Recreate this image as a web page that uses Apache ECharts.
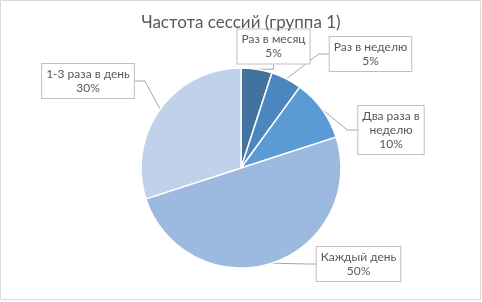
<!DOCTYPE html>
<html>
<head>
<meta charset="utf-8">
<script src="https://cdn.jsdelivr.net/npm/echarts@6/dist/echarts.min.js"></script>
<style>
  html, body { margin: 0; padding: 0; background: #fff; }
  #chart { width: 482px; height: 302px; }
</style>
</head>
<body>
<div id="chart"></div>
<script>
const categories = ['Раз в месяц', 'Раз в неделю', 'Два раза в неделю', 'Каждый день', '1-3 раза в день'];
const shares = [5, 5, 10, 50, 30];
const sliceColors = ['#43729e', '#4b86bf', '#5b9bd5', '#9cb9df', '#bfd2ea'];
// where each label box sits (centre, px) and how many chars fit per line (0 = no wrap)
const labelSpots = [[273.5, 46.5], [370.5, 54], [391, 130], [358.5, 264], [88, 81]];
const labelWrap = [0, 0, 10, 0, 0];

function wrapWords(text, maxChars) {
  if (!maxChars) return text;
  const lines = [];
  let cur = '';
  text.split(' ').forEach(function (w) {
    if (cur && (cur + ' ' + w).length > maxChars) { lines.push(cur); cur = w; }
    else cur = cur ? cur + ' ' + w : w;
  });
  lines.push(cur);
  return lines.join('\n');
}

const myChart = echarts.init(document.getElementById('chart'));

const option = {
  backgroundColor: '#fff',
  animation: false,
  title: {
    text: 'Частота сессий (группа 1)',
    left: 'center',
    top: 9,
    textStyle: { color: '#595959', fontSize: 17, fontWeight: 'normal', fontFamily: 'Lato' }
  },
  graphic: [{
    type: 'rect',
    shape: { x: 0.5, y: 0.5, width: 480, height: 299 },
    style: { fill: 'none', stroke: '#d9d9d9', lineWidth: 1 }
  }],
  series: [{
    type: 'pie',
    center: [241, 168],
    radius: 100,
    startAngle: 90,
    clockwise: true,
    data: categories.map(function (name, i) {
      return { name: name, value: shares[i], itemStyle: { color: sliceColors[i] } };
    }),
    itemStyle: { borderColor: '#fff', borderWidth: 1.5 },
    label: {
      show: true,
      position: 'outside',
      formatter: function (p) {
        return wrapWords(p.name, labelWrap[p.dataIndex]) + '\n' + p.percent + '%';
      },
      color: '#595959',
      fontFamily: 'Lato',
      fontSize: 12,
      lineHeight: 14,
      align: 'center',
      backgroundColor: '#fff',
      borderColor: '#bfbfbf',
      borderWidth: 1,
      padding: [3, 4]
    },
    labelLine: {
      show: true,
      length: 10,
      length2: 10,
      lineStyle: { color: '#a6a6a6', width: 1 }
    },
    labelLayout: function (params) {
      const p = labelSpots[params.dataIndex];
      return { x: p[0], y: p[1], align: 'center', verticalAlign: 'middle' };
    },
    emphasis: { disabled: true }
  }]
};

myChart.setOption(option);
</script>
</body>
</html>
